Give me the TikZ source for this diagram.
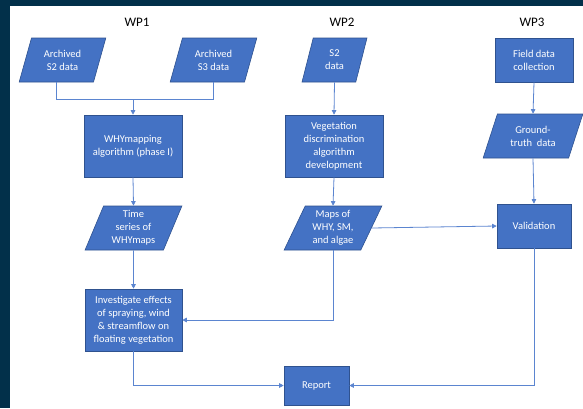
\documentclass[tikz,border=0pt]{standalone}
\usepackage{fontspec}
\setmainfont{Carlito}
\usetikzlibrary{shapes.geometric,arrows.meta,calc}
\definecolor{boxblue}{HTML}{4472C4}
\definecolor{boxedge}{HTML}{2F528F}
\definecolor{lineblue}{HTML}{5B85D0}
\definecolor{frame}{HTML}{02304A}
\tikzset{
  x=1pt, y=-1pt,
  boxtext/.style={text=white, font=\fontsize{10.5}{13}\selectfont, align=center, inner sep=0pt},
  procbox/.style={rectangle, fill=boxblue, draw=boxedge, line width=0.6pt, boxtext},
  databox/.style={trapezium, trapezium stretches=true, fill=boxblue, draw=boxedge, line width=0.6pt, boxtext},
  wplabel/.style={font=\fontsize{13}{15}\selectfont, text=black, inner sep=0pt},
  conn/.style={draw=lineblue, line width=0.8pt},
  arr/.style={conn, -{Triangle[length=4.5pt,width=4.5pt]}}
}
\begin{document}
\begin{tikzpicture}
\fill[frame] (0,0) rectangle (583,408);
\fill[white] (10,6) rectangle (583,408);
\useasboundingbox (0,0) rectangle (583,408);

\node[wplabel] (wp1) at (137,22) {WP1};
\node[wplabel] (wp2) at (342,22) {WP2};
\node[wplabel] (wp3) at (532,22) {WP3};

\node[databox, trapezium left angle=70, trapezium right angle=110, minimum width=87pt, minimum height=44pt] (s2a) at (62.5,60) {Archived\\S2 data};
\node[databox, trapezium left angle=70, trapezium right angle=110, minimum width=87pt, minimum height=44pt] (s3a) at (213.5,60) {Archived\\S3 data};
\node[procbox, minimum width=98pt, minimum height=62pt] (why) at (133,146) {WHYmapping\\algorithm (phase I)};
\node[databox, trapezium left angle=69, trapezium right angle=111, minimum width=97pt, minimum height=44pt] (ts) at (133.5,228) {Time\\series of\\WHYmaps};
\node[procbox, minimum width=97pt, minimum height=62pt] (inv) at (133.5,320) {Investigate effects\\of spraying, wind\\\& streamflow on\\floating vegetation};

\node[databox, trapezium left angle=76, trapezium right angle=104, minimum width=65pt, minimum height=44pt] (s2) at (334.5,60) {S2\\data};
\node[procbox, minimum width=98pt, minimum height=62pt] (veg) at (334,146) {Vegetation\\discrimination\\algorithm\\development};
\node[databox, trapezium left angle=66, trapezium right angle=114, minimum width=98pt, minimum height=44pt] (maps) at (333,228) {Maps of\\WHY, SM,\\and algae};

\node[procbox, minimum width=78pt, minimum height=44pt] (field) at (534,60) {Field data\\collection};
\node[databox, trapezium left angle=66, trapezium right angle=114, minimum width=100pt, minimum height=44pt] (gt) at (533,136) {Ground-\\truth\ \ data};
\node[procbox, minimum width=74pt, minimum height=44pt] (val) at (534,226) {Validation};

\node[procbox, minimum width=65pt, minimum height=39pt] (rep) at (316.5,385.5) {Report};

\coordinate (j) at (133,99);
\draw[conn] ($(s2a.bottom left corner)!0.5!(s2a.bottom right corner)$) |- (j);
\draw[conn] (s3a.south) |- (j);
\draw[arr] (j) -- (why.north);
\draw[arr] (why.south) -- (ts.north);
\draw[arr] (ts.south) -- (inv.north);
\draw[arr] (s2.south) -- (veg.north);
\draw[arr] (veg.south) -- (maps.north);
\draw[arr] (maps.east) -- (val.west);
\draw[arr] (maps.south) |- (inv.east);
\draw[arr] (field.south) -- (gt.north);
\draw[arr] (gt.south) -- (val.north);
\draw[arr] (inv.south) |- (rep.west);
\draw[arr] (val.south) |- (rep.east);
\end{tikzpicture}
\end{document}
